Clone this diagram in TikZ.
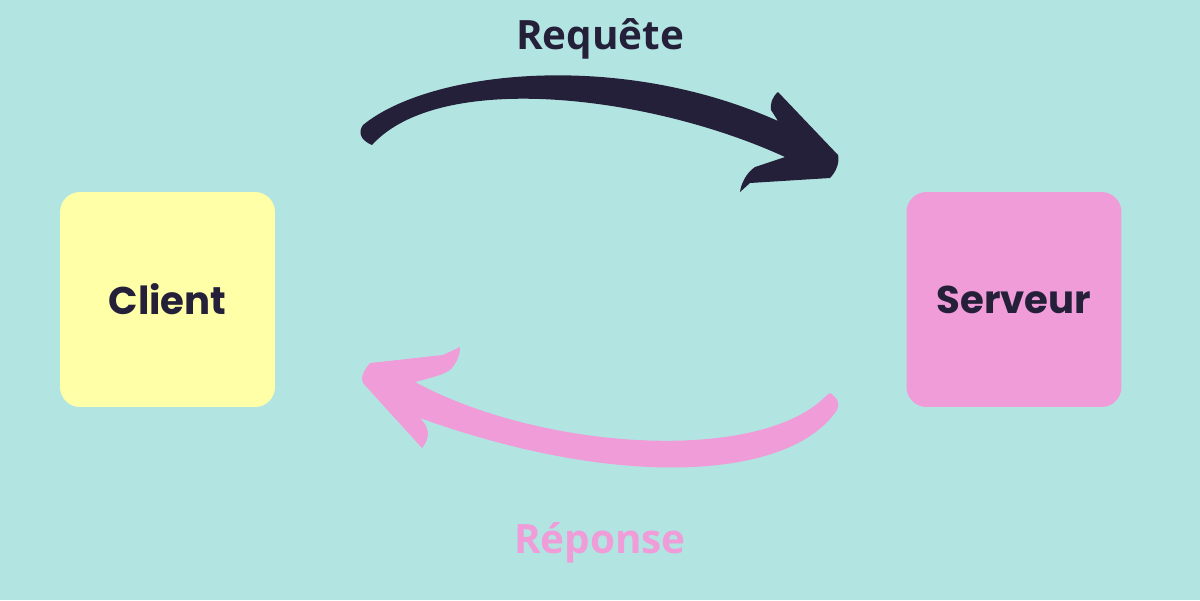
\documentclass[tikz,border=0pt]{standalone}
\usepackage{fontspec}
\setmainfont{Poppins}
\newfontfamily\labelfont{Open Sans}
\definecolor{bgteal}{HTML}{B2E5E2}
\definecolor{clientyellow}{HTML}{FFFFA8}
\definecolor{serverpink}{HTML}{EF9CD8}
\definecolor{inkdark}{HTML}{25203A}
\begin{document}
\begin{tikzpicture}[x=0.02cm, y=-0.02cm,
    box/.style={rounded corners=0.4cm, minimum width=4.3cm, minimum height=4.3cm,
        inner sep=0pt, text=inkdark, font=\fontsize{22}{26}\selectfont\bfseries},
    lbl/.style={font=\labelfont\fontsize{23}{27}\selectfont\bfseries}]
    % background
    \fill[bgteal] (0,0) rectangle (1200,600);
    \useasboundingbox (0,0) rectangle (1200,600);

    % the two boxes
    \node[box, fill=clientyellow] (client) at (167.5,299.5) {Client};
    \node[box, fill=serverpink] (serveur) at (1014,299.5) {Serveur};

    % request arrow
    \fill[inkdark] (372,145) .. controls (360,140) and (358,132) .. (363,125)
        .. controls (430,70) and (620,50) .. (778,121)
        -- (771,110) .. controls (770,104) and (772,97) .. (778,92)
        -- (838,155) .. controls (840,162) and (836,172) .. (830,178)
        -- (750,183) -- (740,192) .. controls (741,184) and (746,173) .. (755,167)
        -- (785,157)
        .. controls (650,95) and (440,70) .. (372,145) -- cycle;
    \node[lbl, text=inkdark] (requete) at (600,39) {Requête};

    % response arrow
    \fill[serverpink] (830,393) .. controls (838,398) and (840,404) .. (837,410)
        .. controls (790,480) and (620,490) .. (420,418)
        .. controls (428,426) and (432,436) .. (422,448)
        -- (363,383) .. controls (360,378) and (364,370) .. (370,363)
        -- (443,355) -- (460,347) .. controls (460,356) and (456,364) .. (450,370)
        .. controls (444,374) and (438,376) .. (415,382)
        .. controls (540,450) and (760,465) .. (827,395) -- cycle;
    \node[lbl, text=serverpink] (reponse) at (600,543) {Réponse};
\end{tikzpicture}
\end{document}
